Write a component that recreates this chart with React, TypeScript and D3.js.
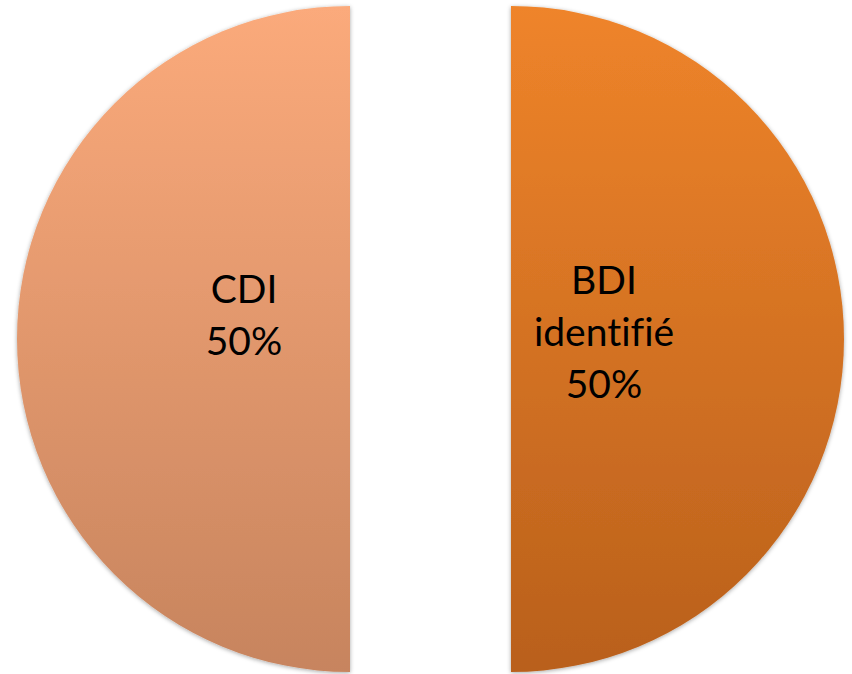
import React from "react";
import * as d3 from "d3";

const categories = ["BDI identifié", "CDI"];
const values = [50, 50];
const labelLines = [["BDI", "identifié", "50%"], ["CDI", "50%"]];
const topColors = ["#EF842A", "#FBAA7B"];
const bottomColors = ["#B9601C", "#C7845E"];

const W = 852;
const H = 674;
const cx = 430.5;
const cy = 339;
const R = 333;
const explode = 80.5;
const fontSize = 39;
const lineH = 52;

export default function App() {
  const pie = d3.pie<number>().sort(null).value((d) => d);
  const arcs = pie(values);
  const arc = d3.arc<d3.PieArcDatum<number>>().innerRadius(0).outerRadius(R);
  const labelArc = d3.arc<d3.PieArcDatum<number>>().innerRadius(100).outerRadius(100);
  const nudge = [
    { dx: -7, dy: 4 },
    { dx: -6, dy: -13 },
  ];

  return (
    <svg width={W} height={H} style={{ position: "absolute", left: 0, top: 0, display: "block" }}>
      <defs>
        <filter id="sh" x="-10%" y="-10%" width="120%" height="120%">
          <feDropShadow dx="0" dy="1" stdDeviation="2" floodColor="#000" floodOpacity="0.35" />
        </filter>
        {arcs.map((a, i) => (
          <linearGradient key={i} id={`g${i}`} gradientUnits="userSpaceOnUse" x1="0" y1={-R} x2="0" y2={R}>
            <stop offset="0" stopColor={topColors[i]} />
            <stop offset="1" stopColor={bottomColors[i]} />
          </linearGradient>
        ))}
      </defs>
      {arcs.map((a, i) => {
        const mid = (a.startAngle + a.endAngle) / 2;
        const ox = Math.sin(mid) * explode;
        const [lx, ly] = labelArc.centroid(a);
        const lines = labelLines[i];
        const n = lines.length;
        const baseY = ly - ((n - 1) * lineH) / 2 + fontSize * 0.33 - 10 + nudge[i].dy;
        return (
          <g key={categories[i]} transform={`translate(${cx + ox},${cy})`}>
            <path d={arc(a) || ""} fill={`url(#g${i})`} filter="url(#sh)" />
            <text
              textAnchor="middle"
              fontFamily="Lato, 'Open Sans', sans-serif"
              fontSize={fontSize}
              fill="#000"
              style={{ fontVariantLigatures: "none", fontFeatureSettings: "'liga' 0" }}
            >
              {lines.map((t, j) => (
                <tspan key={j} x={lx + nudge[i].dx} y={baseY + j * lineH}>
                  {t}
                </tspan>
              ))}
            </text>
          </g>
        );
      })}
    </svg>
  );
}
